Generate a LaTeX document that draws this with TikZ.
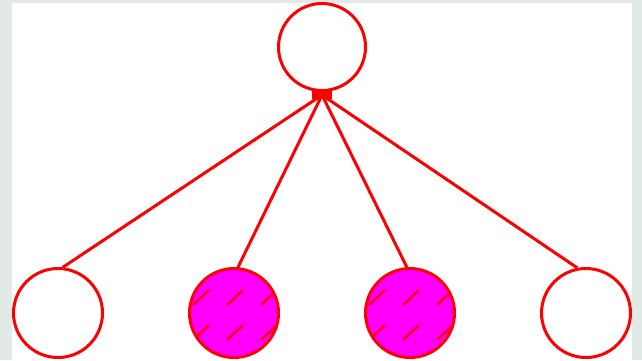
\documentclass[tikz,border=0pt]{standalone}
\usetikzlibrary{calc}
\definecolor{bggray}{HTML}{E2EAE7}
\definecolor{pred}{HTML}{FF0000}
\definecolor{pmag}{HTML}{FF00FF}
\tikzset{
  ring/.style={circle, draw=pred, line width=3pt, inner sep=0pt, minimum size=89pt},
  filled/.style={ring, fill=pmag},
  link/.style={draw=pred, line width=3pt},
  hatch/.style={draw=pred, line width=2.2pt}
}
\begin{document}
\begin{tikzpicture}[x=1pt,y=-1pt]
\useasboundingbox (0,0) rectangle (642,360);
\fill[bggray] (0,0) rectangle (642,360);
\fill[white] (12,3) rectangle (632,360);
\node[ring, minimum size=87pt] (top) at (322,47) {};
\node[ring] (c1) at (58,313) {};
\node[filled] (c2) at (234,313) {};
\node[filled] (c3) at (410,313) {};
\node[ring] (c4) at (586,313) {};
\coordinate (hub) at (322,95);
\fill[pred] (312,90) rectangle (332,99);
\draw[link] (hub) -- (c1.84);
\draw[link] (hub) -- (c2.85);
\draw[link] (hub) -- (c3.94);
\draw[link] (hub) -- (c4.101);
\foreach \n in {c2,c3}{
  \begin{scope}
    \clip (\n) circle (44);
    \foreach \dx in {-34,0,34}{
      \foreach \dy in {-16,19}{
        \draw[hatch] ($(\n)+(\dx-8+1,\dy+8)$) -- ($(\n)+(\dx+8+1,\dy-7)$);
      }
    }
  \end{scope}
}
\end{tikzpicture}
\end{document}
